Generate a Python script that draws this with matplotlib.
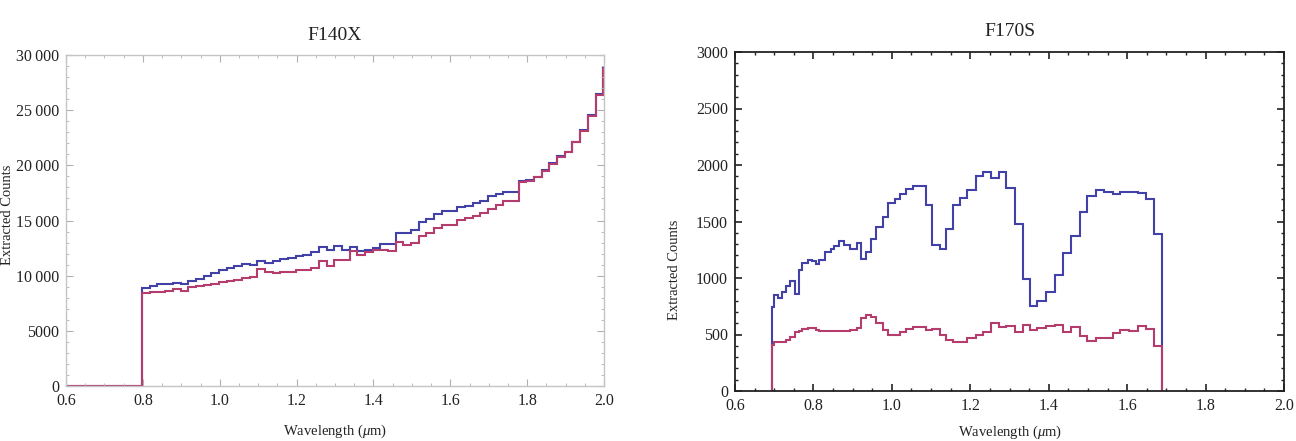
import numpy as np
import matplotlib
matplotlib.use("Agg")
import matplotlib.pyplot as plt
from matplotlib.ticker import MultipleLocator, FuncFormatter

# ---------------- data ----------------
# F140X: bins of 0.02 um starting at 0.798 (plus a zero segment from 0.6)
f140x_start = 0.798
f140x_width = 0.02
f140x_blue = [8900, 9050, 9200, 9280, 9350, 9200, 9500, 9700, 9950, 10250,
              10500, 10700, 10900, 11050, 11000, 11300, 11150, 11300, 11500, 11600,
              11800, 11900, 12100, 12600, 12300, 12650, 12300, 12600, 12200, 12350,
              12500, 12900, 12900, 13900, 13900, 14150, 14900, 15100, 15600, 15900,
              15900, 16200, 16350, 16550, 16750, 17200, 17400, 17550, 17550, 18550,
              18650, 18950, 19550, 20200, 20850, 21250, 22150, 23200, 24550, 26450, 28800]
f140x_red = [8450, 8500, 8530, 8600, 8750, 8600, 9000, 9100, 9150, 9250,
             9400, 9500, 9650, 9800, 9850, 10600, 10300, 10250, 10300, 10300,
             10550, 10500, 10700, 11300, 10900, 11400, 11400, 12200, 11900, 12100,
             12300, 12350, 12200, 13050, 12800, 12950, 13600, 13900, 14300, 14600,
             14600, 15050, 15200, 15450, 15650, 16050, 16450, 16750, 16750, 18450,
             18600, 18900, 19500, 20150, 20800, 21200, 22100, 23150, 24500, 26400, 28750]

# F170S: prism-like variable bins (edges in um)
f170s_edges = [0.694, 0.700, 0.709, 0.721, 0.730, 0.740, 0.754, 0.762, 0.771, 0.785,
               0.796, 0.807, 0.815, 0.830, 0.845, 0.853, 0.866, 0.879, 0.893, 0.910,
               0.922, 0.934, 0.947, 0.960, 0.977, 0.990, 1.007, 1.021, 1.037, 1.053,
               1.070, 1.086, 1.103, 1.122, 1.139, 1.156, 1.173, 1.192, 1.214, 1.232,
               1.252, 1.272, 1.290, 1.313, 1.334, 1.353, 1.370, 1.392, 1.415, 1.437,
               1.458, 1.479, 1.498, 1.520, 1.540, 1.563, 1.583, 1.604, 1.627, 1.647,
               1.668, 1.690]
f170s_blue = [746, 850, 820, 879, 929, 976, 856, 1071, 1135, 1159,
              1150, 1124, 1160, 1230, 1257, 1283, 1327, 1292, 1257, 1307,
              1168, 1233, 1348, 1454, 1540, 1661, 1699, 1743, 1788, 1815,
              1815, 1646, 1292, 1257, 1434, 1646, 1705, 1779, 1905, 1935,
              1882, 1935, 1794, 1478, 990, 750, 799, 879, 1027, 1218,
              1374, 1587, 1726, 1775, 1764, 1745, 1758, 1762, 1755, 1702, 1387]
f170s_red = [407, 431, 431, 436, 451, 481, 525, 534, 549, 560,
             555, 540, 534, 534, 534, 534, 530, 530, 540, 560,
             643, 673, 658, 599, 540, 496, 496, 520, 545, 569,
             569, 537, 552, 493, 448, 437, 437, 466, 496, 525,
             599, 565, 575, 520, 585, 540, 555, 575, 584, 525,
             569, 490, 442, 466, 466, 510, 540, 531, 575, 546, 398]

titles = ["F140X", "F170S"]
xlabel = "Wavelength ($\\mu$m)"
ylabel = "Extracted Counts"

BLUE = "#4141a8"
RED = "#b43d6e"

SERIF = ["Liberation Serif", "DejaVu Serif"]
plt.rcParams["font.family"] = SERIF
plt.rcParams["mathtext.fontset"] = "custom"
plt.rcParams["mathtext.it"] = "Liberation Serif:italic"
plt.rcParams["mathtext.rm"] = "Liberation Serif"

W, H = 1296, 441
fig = plt.figure(figsize=(W / 100, H / 100), dpi=100)

def frac(x0, y0, x1, y1):
    return [x0 / W, 1 - y1 / H, (x1 - x0) / W, (y1 - y0) / H]

ax1 = fig.add_axes(frac(66, 55, 604, 386))
ax2 = fig.add_axes(frac(735, 52, 1284, 391))

# ---- left panel ----
n = len(f140x_blue)
edges1 = np.round(f140x_start + f140x_width * np.arange(n + 1), 4)
edges1[-1] = 2.0
edges1 = np.concatenate([[0.6], edges1])
ax1.stairs([0] + f140x_blue, edges1, baseline=None, color=BLUE, lw=1.5)
ax1.stairs([0] + f140x_red, edges1, baseline=None, color=RED, lw=1.5)
ax1.set_xlim(0.6, 2.0)
ax1.set_ylim(0, 30000)
ax1.xaxis.set_major_locator(MultipleLocator(0.2))
ax1.xaxis.set_minor_locator(MultipleLocator(0.05))
ax1.yaxis.set_major_locator(MultipleLocator(5000))
ax1.yaxis.set_minor_locator(MultipleLocator(1000))
ax1.xaxis.set_major_formatter(FuncFormatter(lambda v, p: f"{v:.1f}"))

def thousands(v, p):
    v = int(round(v))
    if v >= 10000:
        return f"{v // 1000}\u2009{v % 1000:03d}"
    return str(v)

ax1.yaxis.set_major_formatter(FuncFormatter(thousands))
for s in ax1.spines.values():
    s.set_color("#c4c4c4")
    s.set_linewidth(1.0)
ax1.tick_params(which="both", direction="in", top=True, right=True,
                color="#b0b0b0", labelsize=11.5, labelcolor="#222222", pad=5)
ax1.tick_params(which="major", length=5)
ax1.tick_params(which="minor", length=2.5)

# ---- right panel ----
ax2.stairs(f170s_blue, f170s_edges, baseline=0, color=BLUE, lw=1.5)
ax2.stairs(f170s_red, f170s_edges, baseline=0, color=RED, lw=1.5)
ax2.set_xlim(0.6, 2.0)
ax2.set_ylim(0, 3000)
ax2.xaxis.set_major_locator(MultipleLocator(0.2))
ax2.xaxis.set_minor_locator(MultipleLocator(0.05))
ax2.yaxis.set_major_locator(MultipleLocator(500))
ax2.yaxis.set_minor_locator(MultipleLocator(100))
ax2.xaxis.set_major_formatter(FuncFormatter(lambda v, p: f"{v:.1f}"))
ax2.yaxis.set_major_formatter(FuncFormatter(lambda v, p: f"{int(round(v))}"))
for s in ax2.spines.values():
    s.set_color("#222222")
    s.set_linewidth(1.3)
ax2.tick_params(which="both", direction="in", top=True, right=True,
                color="#222222", labelsize=11.5, labelcolor="#222222", pad=5)
ax2.tick_params(which="major", length=5, width=1.2)
ax2.tick_params(which="minor", length=2.5, width=1.0)

# ---- titles & labels ----
fig.text(335 / W, 1 - 36 / H, titles[0], ha="center", va="center", fontsize=14, color="#222222")
fig.text(1010 / W, 1 - 31 / H, titles[1], ha="center", va="center", fontsize=14, color="#222222")
fig.text(335 / W, 1 - 431 / H, xlabel, ha="center", va="center", fontsize=10.5, color="#222222")
fig.text(1010 / W, 1 - 432 / H, xlabel, ha="center", va="center", fontsize=10.5, color="#222222")
fig.text(675 / W, 1 - 270 / H, ylabel, ha="center", va="center", rotation=90, fontsize=10.5, color="#222222")
fig.text(8 / W, 1 - 215 / H, ylabel, ha="center", va="center", rotation=90, fontsize=10.5, color="#222222")

fig.savefig("out.png", dpi=100)
